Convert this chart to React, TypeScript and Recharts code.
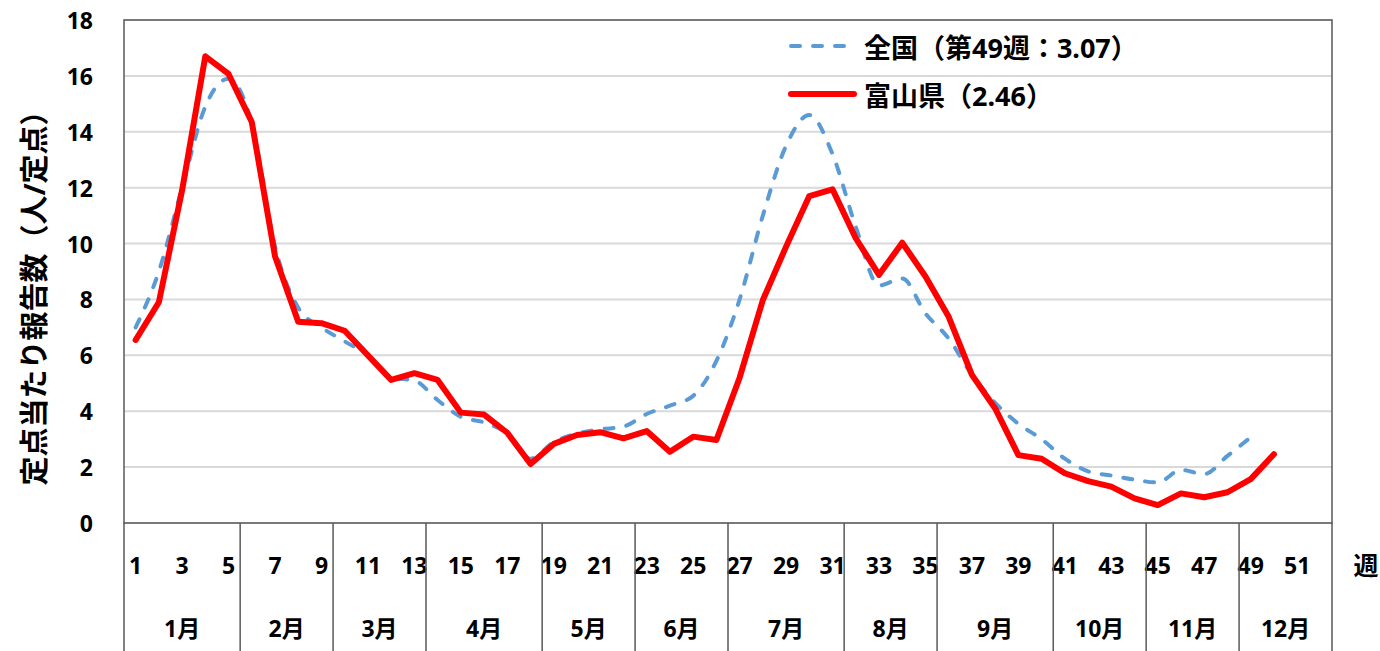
import React from 'react';
import { ComposedChart, Line, XAxis, YAxis, CartesianGrid, ReferenceArea } from 'recharts';

document.body.style.margin = '0';

const weeks = [
  1, 2, 3, 4, 5, 6, 7, 8, 9, 10, 11, 12, 13, 14, 15, 16, 17, 18, 19, 20, 21, 22, 23, 24, 25, 26,
  27, 28, 29, 30, 31, 32, 33, 34, 35, 36, 37, 38, 39, 40, 41, 42, 43, 44, 45, 46, 47, 48, 49, 50, 51, 52,
];

// 全国
const national = [
  7.0, 9.0, 12.0, 14.9, 15.9, 14.3, 9.9, 7.7, 7.0, 6.5, 6.0, 5.2, 5.1, 4.4, 3.8, 3.6, 3.2, 2.3, 2.9, 3.2,
  3.35, 3.45, 3.9, 4.2, 4.55, 5.8, 8.0, 11.0, 13.5, 14.6, 13.2, 10.6, 8.5, 8.75, 7.5, 6.6, 5.3, 4.3, 3.55, 3.0,
  2.3, 1.85, 1.7, 1.55, 1.45, 1.9, 1.75, 2.4, 3.07, null, null, null,
];

// 富山県
const toyama = [
  6.55, 7.9, 11.9, 16.7, 16.07, 14.35, 9.55, 7.2, 7.15, 6.88, 6.0, 5.12, 5.36, 5.12, 3.95, 3.88, 3.23, 2.11, 2.83, 3.15,
  3.25, 3.03, 3.29, 2.55, 3.09, 2.97, 5.2, 7.98, 9.89, 11.7, 11.94, 10.19, 8.88, 10.03, 8.82, 7.38, 5.3, 4.1, 2.43, 2.3,
  1.78, 1.5, 1.3, 0.88, 0.64, 1.06, 0.92, 1.1, 1.57, 2.46, null, null,
];

const yTicks = [0, 2, 4, 6, 8, 10, 12, 14, 16, 18];
const months = ['1月', '2月', '3月', '4月', '5月', '6月', '7月', '8月', '9月', '10月', '11月', '12月'];
const monthStartWeeks = [1, 6, 10, 14, 19, 23, 27, 32, 36, 41, 45, 49];

const series = [
  { key: 'national', name: '全国（第49週：3.07）', color: '#5B9BD5', width: 4, dash: '9 13', type: 'monotone' },
  { key: 'toyama', name: '富山県（2.46）', color: '#FF0000', width: 6, dash: undefined, type: 'linear' },
];

const data = weeks.map((w, i) => ({ week: w, national: national[i], toyama: toyama[i] }));

const WIDTH = 1380;
const HEIGHT = 651;
const MARGIN = { top: 20, right: 48, left: 0, bottom: 0 };
const Y_AXIS_W = 124;
const X_AXIS_H = 128;
const BAND = (WIDTH - MARGIN.right - Y_AXIS_W) / weeks.length;
const FONT = "'Noto Sans', 'Noto Sans CJK JP', sans-serif";
const EDGE = '#595959';
const TEXT = '#000';
const TICK_SIZE = 23;

function WeekTick(props: any) {
  const { x, y, payload } = props;
  const i = typeof payload.index === 'number' ? payload.index : weeks.indexOf(payload.value);
  const week = weeks[i];
  const left = x - BAND / 2;
  const m = monthStartWeeks.indexOf(week);
  const last = i === weeks.length - 1;

  let monthPart = null;
  if (m >= 0) {
    const next = m + 1 < monthStartWeeks.length ? monthStartWeeks[m + 1] : weeks[weeks.length - 1] + 1;
    const span = (next - week) * BAND;
    monthPart = (
      <g>
        <line x1={left} x2={left} y1={y} y2={y + X_AXIS_H} stroke={EDGE} strokeWidth={1.5} />
        <text x={left + span / 2} y={y + 105} textAnchor="middle" dominantBaseline="central"
          fontSize={TICK_SIZE} fontWeight="bold" fontFamily={FONT} fill={TEXT}>
          {months[m]}
        </text>
      </g>
    );
  }

  return (
    <g>
      {week % 2 === 1 && (
        <text x={x} y={y + 42} textAnchor="middle" dominantBaseline="central"
          fontSize={TICK_SIZE} fontWeight="bold" fontFamily={FONT} fill={TEXT}>
          {week}
        </text>
      )}
      {monthPart}
      {last && (
        <g>
          <line x1={x + BAND / 2} x2={x + BAND / 2} y1={y} y2={y + X_AXIS_H} stroke={EDGE} strokeWidth={1.5} />
          <text x={x + BAND / 2 + 34} y={y + 42} textAnchor="middle" dominantBaseline="central"
            fontSize={25} fontWeight="bold" fontFamily={FONT} fill={TEXT}>
            週
          </text>
        </g>
      )}
    </g>
  );
}

function ValueTick(props: any) {
  const { x, y, payload } = props;
  return (
    <text x={x - 31} y={y} textAnchor="end" dominantBaseline="central"
      fontSize={TICK_SIZE} fontWeight="bold" fontFamily={FONT} fill={TEXT}>
      {payload.value}
    </text>
  );
}

function YTitle() {
  return (
    <text x={33} y={291} transform="rotate(-90 33 291)" textAnchor="middle" dominantBaseline="central"
      fontSize={29} fontWeight="bold" fontFamily={FONT} fill={TEXT}>
      定点当たり報告数（人/定点）
    </text>
  );
}

function ChartLegend() {
  return (
    <div style={{ position: 'absolute', left: 786, top: 22, fontFamily: FONT }}>
      {series.map((s) => (
        <div key={s.key} style={{ display: 'flex', alignItems: 'center', height: 48 }}>
          <svg width={72} height={12} style={{ marginRight: 6 }}>
            <line x1={5} x2={68} y1={6} y2={6} stroke={s.color} strokeWidth={s.width}
              strokeDasharray={s.dash} strokeLinecap="round" />
          </svg>
          <span style={{ fontSize: 27, fontWeight: 'bold', color: TEXT, whiteSpace: 'nowrap' }}>{s.name}</span>
        </div>
      ))}
    </div>
  );
}

export default function App() {
  return (
    <div style={{ position: 'relative', width: WIDTH, height: HEIGHT, background: '#fff', fontFamily: FONT }}>
      <ComposedChart width={WIDTH} height={HEIGHT} data={data} margin={MARGIN}>
        <CartesianGrid vertical={false} stroke="#d9d9d9" strokeWidth={2} />
        <XAxis
          dataKey="week"
          scale="band"
          interval={0}
          height={X_AXIS_H}
          tickLine={false}
          axisLine={false}
          tickSize={0}
          tickMargin={0}
          tick={<WeekTick />}
        />
        <YAxis
          domain={[0, 18]}
          ticks={yTicks}
          width={Y_AXIS_W}
          tickLine={false}
          axisLine={false}
          tickSize={0}
          tickMargin={0}
          tick={<ValueTick />}
          label={<YTitle />}
        />
        <ReferenceArea y1={0} y2={18} fill="none" stroke={EDGE} strokeWidth={1.5} ifOverflow="visible" />
        {series.map((s) => (
          <Line
            key={s.key}
            type={s.type as any}
            dataKey={s.key}
            name={s.name}
            stroke={s.color}
            strokeWidth={s.width}
            strokeDasharray={s.dash}
            strokeLinecap="round"
            strokeLinejoin="round"
            dot={false}
            activeDot={false}
            isAnimationActive={false}
          />
        ))}
      </ComposedChart>
      <ChartLegend />
    </div>
  );
}
